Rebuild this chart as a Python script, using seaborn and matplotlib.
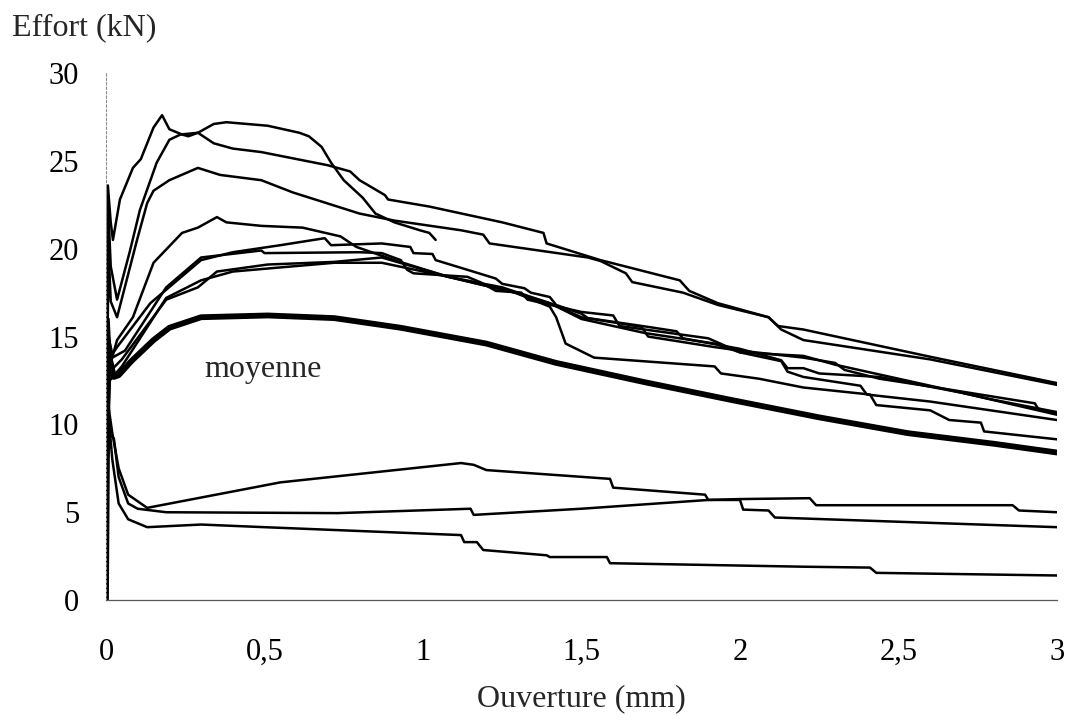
import matplotlib
matplotlib.use("Agg")
import matplotlib.pyplot as plt
import seaborn as sns

# courbes effort / ouverture
c1_x = [0, 0.004, 0.006, 0.015, 0.022, 0.044, 0.085, 0.11, 0.15, 0.177, 0.2, 0.24, 0.26, 0.29, 0.34, 0.38, 0.51, 0.61, 0.64, 0.68, 0.71, 0.75, 0.81, 0.85, 0.91, 0.99, 1.02, 1.04]
c1_y = [0, 15, 23.6, 21.5, 20.5, 22.8, 24.6, 25.1, 26.9, 27.6, 26.8, 26.5, 26.4, 26.6, 27.1, 27.2, 27.0, 26.6, 26.4, 25.8, 24.9, 23.9, 22.9, 22.0, 21.5, 21.05, 20.9, 20.5]

c2_x = [0, 0.004, 0.008, 0.015, 0.035, 0.076, 0.107, 0.16, 0.2, 0.235, 0.29, 0.34, 0.4, 0.49, 0.70, 0.77, 0.80, 0.88, 0.89, 1.02, 1.25, 1.38, 1.39, 1.56, 1.81, 1.84, 1.93, 2.09, 2.12, 2.2, 2.6, 3.0]
c2_y = [0, 14, 22, 19, 17.1, 19.9, 22.2, 24.9, 26.2, 26.5, 26.6, 26.0, 25.7, 25.5, 24.75, 24.4, 23.9, 23.05, 22.8, 22.4, 21.5, 20.9, 20.3, 19.35, 18.2, 17.6, 16.9, 16.1, 15.6, 15.4, 13.85, 12.35]

c3_x = [0, 0.004, 0.008, 0.015, 0.035, 0.098, 0.13, 0.15, 0.2, 0.29, 0.36, 0.49, 0.59, 0.8, 0.91, 1.12, 1.19, 1.21, 1.52, 1.56, 1.64, 1.66, 1.82, 1.93, 2.09, 2.13, 2.2, 2.6, 3.0]
c3_y = [0, 13, 20, 17, 16.1, 20.5, 22.6, 23.3, 23.9, 24.6, 24.2, 23.9, 23.2, 22.0, 21.6, 21.05, 20.8, 20.3, 19.5, 19.3, 18.6, 18.1, 17.5, 16.8, 16.1, 15.4, 14.8, 13.7, 12.25]

c4_x = [0, 0.004, 0.008, 0.015, 0.035, 0.085, 0.15, 0.24, 0.29, 0.35, 0.38, 0.49, 0.62, 0.74, 0.79, 0.91, 1.08, 1.25, 1.40, 1.5, 1.69, 1.71, 1.92, 2.0, 2.2, 2.3, 2.33, 2.44, 2.62, 2.93, 2.94, 3.0]
c4_y = [0, 12, 16, 13.5, 14.8, 16.1, 19.2, 20.9, 21.2, 21.8, 21.5, 21.3, 21.2, 20.7, 20.1, 19.35, 18.4, 17.8, 16.9, 16.1, 15.55, 15.0, 14.4, 14.2, 13.8, 13.5, 13.1, 12.6, 12.1, 11.2, 10.9, 10.6]

b1_x = [0, 0.004, 0.008, 0.02, 0.035, 0.14, 0.3, 0.4, 0.55, 0.69, 0.71, 0.87, 0.96, 0.97, 1.03, 1.04, 1.14, 1.23, 1.25, 1.32, 1.34, 1.40, 1.42, 1.50, 1.52, 1.71, 1.8, 1.82, 2.0, 2.13, 2.15, 2.2, 2.25, 2.44, 2.7, 3.0]
b1_y = [0, 11, 15, 14, 14.4, 16.9, 19.35, 19.8, 20.2, 20.6, 20.2, 20.3, 20.1, 19.75, 19.7, 19.35, 18.8, 18.3, 18.0, 17.75, 17.5, 17.25, 16.8, 16.3, 16.05, 15.55, 15.3, 14.9, 14.3, 13.65, 13.2, 13.2, 12.9, 12.7, 11.8, 10.55]

b2_x = [0, 0.004, 0.01, 0.02, 0.06, 0.19, 0.3, 0.49, 0.5, 0.8, 0.87, 0.93, 0.95, 0.97, 1.14, 1.18, 1.23, 1.31, 1.33, 1.5, 1.6, 1.62, 1.9, 2.0, 2.2, 2.3, 2.5, 2.8, 3.0]
b2_y = [0, 10, 14.5, 13.8, 14.2, 17.8, 19.5, 19.9, 19.75, 19.8, 19.75, 19.35, 18.8, 18.6, 18.4, 18.1, 17.6, 17.5, 17.1, 16.4, 16.2, 15.6, 14.9, 14.1, 13.9, 13.4, 12.6, 11.4, 10.7]

b3_x = [0, 0.004, 0.012, 0.05, 0.19, 0.29, 0.35, 0.51, 0.72, 0.87, 1.08, 1.29, 1.40, 1.5, 1.7, 1.92, 2.0, 2.13, 2.15, 2.2, 2.38, 2.40, 2.6, 3.0]
b3_y = [0, 9, 13, 13.7, 17.1, 17.8, 18.7, 19.1, 19.25, 19.5, 18.4, 17.5, 16.9, 16.0, 15.2, 14.6, 14.1, 13.6, 13.0, 12.7, 12.2, 11.7, 11.3, 10.25]

b4_x = [0, 0.004, 0.012, 0.05, 0.19, 0.3, 0.4, 0.72, 0.87, 1.08, 1.29, 1.4, 1.42, 1.45, 1.54, 1.92, 1.94, 2.06, 2.2, 2.41, 2.43, 2.6, 2.66, 2.76, 2.77, 3.0]
b4_y = [0, 9, 12.5, 13.3, 17.2, 18.2, 18.7, 19.2, 19.2, 18.4, 17.5, 16.7, 16.1, 14.6, 13.8, 13.3, 12.9, 12.6, 12.1, 11.7, 11.1, 10.8, 10.25, 10.1, 9.6, 9.15]

l1_x = [0, 0.003, 0.008, 0.02, 0.04, 0.07, 0.13, 0.55, 1.12, 1.16, 1.2, 1.59, 1.6, 1.89, 1.9, 2.0, 2.22, 2.24, 2.86, 2.88, 3.0]
l1_y = [0, 8, 11, 9.5, 7.5, 6.0, 5.25, 6.7, 7.8, 7.7, 7.4, 6.9, 6.4, 6.0, 5.7, 5.75, 5.8, 5.4, 5.4, 5.1, 5.0]

l2_x = [0, 0.003, 0.01, 0.025, 0.04, 0.07, 0.1, 0.19, 0.73, 1.15, 1.16, 1.5, 1.9, 2.0, 2.01, 2.09, 2.11, 3.0]
l2_y = [0, 7, 9.5, 9.2, 7.0, 5.5, 5.2, 5.0, 4.95, 5.2, 4.85, 5.2, 5.7, 5.7, 5.15, 5.1, 4.7, 4.15]

l3_x = [0, 0.003, 0.008, 0.02, 0.04, 0.07, 0.13, 0.3, 0.5, 1.12, 1.13, 1.17, 1.19, 1.39, 1.4, 1.58, 1.59, 2.2, 2.41, 2.43, 3.0]
l3_y = [0, 6, 10.5, 8, 5.5, 4.6, 4.15, 4.3, 4.15, 3.7, 3.3, 3.3, 2.85, 2.55, 2.45, 2.45, 2.1, 1.9, 1.85, 1.55, 1.4]

moy_x = [0, 0.003, 0.006, 0.015, 0.025, 0.04, 0.08, 0.15, 0.2, 0.3, 0.51, 0.72, 0.93, 1.2, 1.42, 1.7, 1.97, 2.25, 2.53, 2.8, 3.0]
moy_y = [0, 8, 14, 13.5, 12.7, 12.8, 13.6, 14.8, 15.5, 16.1, 16.2, 16.05, 15.5, 14.6, 13.5, 12.4, 11.4, 10.4, 9.5, 8.9, 8.4]

x_ticks = [0, 0.5, 1, 1.5, 2, 2.5, 3]
x_labels = ["0", "0,5", "1", "1,5", "2", "2,5", "3"]
y_ticks = [0, 5, 10, 15, 20, 25, 30]

sns.set_style("white")
plt.rcParams["font.family"] = ["Liberation Serif", "DejaVu Serif"]

fig = plt.figure(figsize=(10.65, 7.23), dpi=100)
ax = fig.add_axes([0.0995, 0.170, 0.893, 0.729])

curves = [(c1_x, c1_y), (c2_x, c2_y), (c3_x, c3_y), (c4_x, c4_y),
          (b1_x, b1_y), (b2_x, b2_y), (b3_x, b3_y), (b4_x, b4_y),
          (l1_x, l1_y), (l2_x, l2_y), (l3_x, l3_y)]
for xs, ys in curves:
    sns.lineplot(x=xs, y=ys, ax=ax, color="black", linewidth=1.8,
                 sort=False, estimator=None)

# courbe moyenne en trait épais
sns.lineplot(x=moy_x, y=moy_y, ax=ax, color="black", linewidth=4.2,
             sort=False, estimator=None)

ax.text(0.494, 13.1, "moyenne", fontsize=23, ha="center", va="center")

ax.set_xlim(0, 3)
ax.set_ylim(0, 30)
ax.set_xticks(x_ticks)
ax.set_xticklabels(x_labels)
ax.set_yticks(y_ticks)
ax.tick_params(direction="inout", length=7, width=0.8, color="0.3",
               labelsize=22, labelcolor="black")
ax.tick_params(axis="x", pad=24)
ax.tick_params(axis="y", pad=16)

for side in ["top", "right"]:
    ax.spines[side].set_visible(False)
ax.spines["bottom"].set_color("0.35")
ax.spines["bottom"].set_linewidth(0.9)
ax.spines["left"].set_color("0.55")
ax.spines["left"].set_linewidth(0.8)
ax.spines["left"].set_linestyle((0, (2, 2)))

ax.set_xlabel("Ouverture (mm)", fontsize=23, labelpad=12)
ax.set_ylabel("")
fig.text(0.011, 0.961, "Effort (kN)", fontsize=23, ha="left", va="center")

fig.savefig("out.png", dpi=100)
